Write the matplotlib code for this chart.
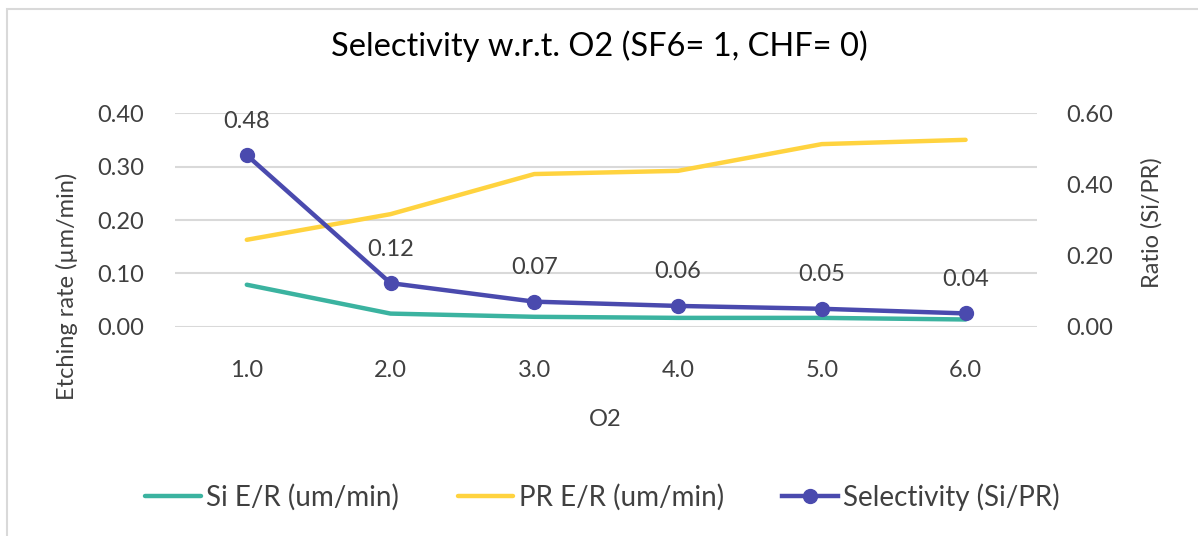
import matplotlib
matplotlib.use("Agg")
import matplotlib.pyplot as plt
from matplotlib.patches import Rectangle

o2 = ["1.0", "2.0", "3.0", "4.0", "5.0", "6.0"]
si_er = [0.079, 0.025, 0.019, 0.017, 0.017, 0.014]
pr_er = [0.163, 0.211, 0.286, 0.292, 0.342, 0.350]
selectivity = [0.482, 0.123, 0.071, 0.059, 0.051, 0.038]

left_ticks = [0.0, 0.1, 0.2, 0.3, 0.4]
right_ticks = [0.0, 0.2, 0.4, 0.6]

GREEN = "#3BB3A0"
YELLOW = "#FFD33F"
BLUE = "#4A4AAE"
GRID = "#D9D9D9"
TEXT = "#404040"

plt.rcParams["font.family"] = ["Lato", "DejaVu Sans"]

fig = plt.figure(figsize=(11.98, 5.36), dpi=100)
# chart-area border (only top/left edges fall inside the picture)
fig.patches.append(Rectangle((7 / 1198, -0.05), 1.2, 1 - 9 / 536 + 0.05,
                             transform=fig.transFigure, fill=False,
                             edgecolor=GRID, lw=1.5))

ax = fig.add_axes([0.146, 0.39, 0.72, 0.399])
x = range(len(o2))
ax.plot(x, si_er, color=GREEN, lw=3.2, solid_capstyle="round", label="Si E/R (um/min)")
ax.plot(x, pr_er, color=YELLOW, lw=3.2, solid_capstyle="round", label="PR E/R (um/min)")
ax.set_ylim(0, 0.4)
ax.set_xlim(-0.5, len(o2) - 0.5)
ax.set_yticks(left_ticks)
ax.set_yticklabels([f"{v:.2f}" for v in left_ticks])
ax.set_xticks(list(x))
ax.set_xticklabels(o2)
ax.grid(axis="y", color=GRID, lw=1.5)
ax.set_axisbelow(True)
for s in ax.spines.values():
    s.set_visible(False)
ax.tick_params(axis="y", length=0, labelsize=17, colors=TEXT, pad=22)
ax.tick_params(axis="x", length=0, labelsize=17, colors=TEXT, pad=24)
ax.set_ylabel("Etching rate (µm/min)", fontsize=17, color=TEXT)
ax.yaxis.set_label_coords(-0.1125, 0.19)
ax.set_xlabel("O2", fontsize=17, color=TEXT)
ax.xaxis.set_label_coords(0.499, -0.385)

ax2 = ax.twinx()
ax2.plot(x, selectivity, color=BLUE, lw=3.2, marker="o", ms=10, label="Selectivity (Si/PR)")
for xi, v in zip(x, selectivity):
    ax2.annotate(f"{v:.2f}", (xi, v), xytext=(0, 17), textcoords="offset points",
                 ha="center", va="bottom", fontsize=17, color=TEXT)
ax2.set_ylim(0, 0.6)
ax2.set_yticks(right_ticks)
ax2.set_yticklabels([f"{v:.2f}" for v in right_ticks])
for s in ax2.spines.values():
    s.set_visible(False)
ax2.tick_params(length=0, labelsize=17, colors=TEXT, pad=21)
ax2.set_ylabel("Ratio (Si/PR)", fontsize=17, color=TEXT)
ax2.yaxis.set_label_coords(1.12, 0.49)

fig.text(0.5, 0.914, "Selectivity w.r.t. O2 (SF6= 1, CHF= 0)", ha="center", va="center",
         fontsize=23.5, color="black")

handles = ax.get_lines() + ax2.get_lines()
fig.legend(handles, [h.get_label() for h in handles], loc="center", bbox_to_anchor=(0.503, 0.073),
           ncol=3, frameon=False, fontsize=20, labelcolor=TEXT, handlelength=2.0,
           handletextpad=0.2, columnspacing=2.1)

fig.savefig("out.png", dpi=100)
